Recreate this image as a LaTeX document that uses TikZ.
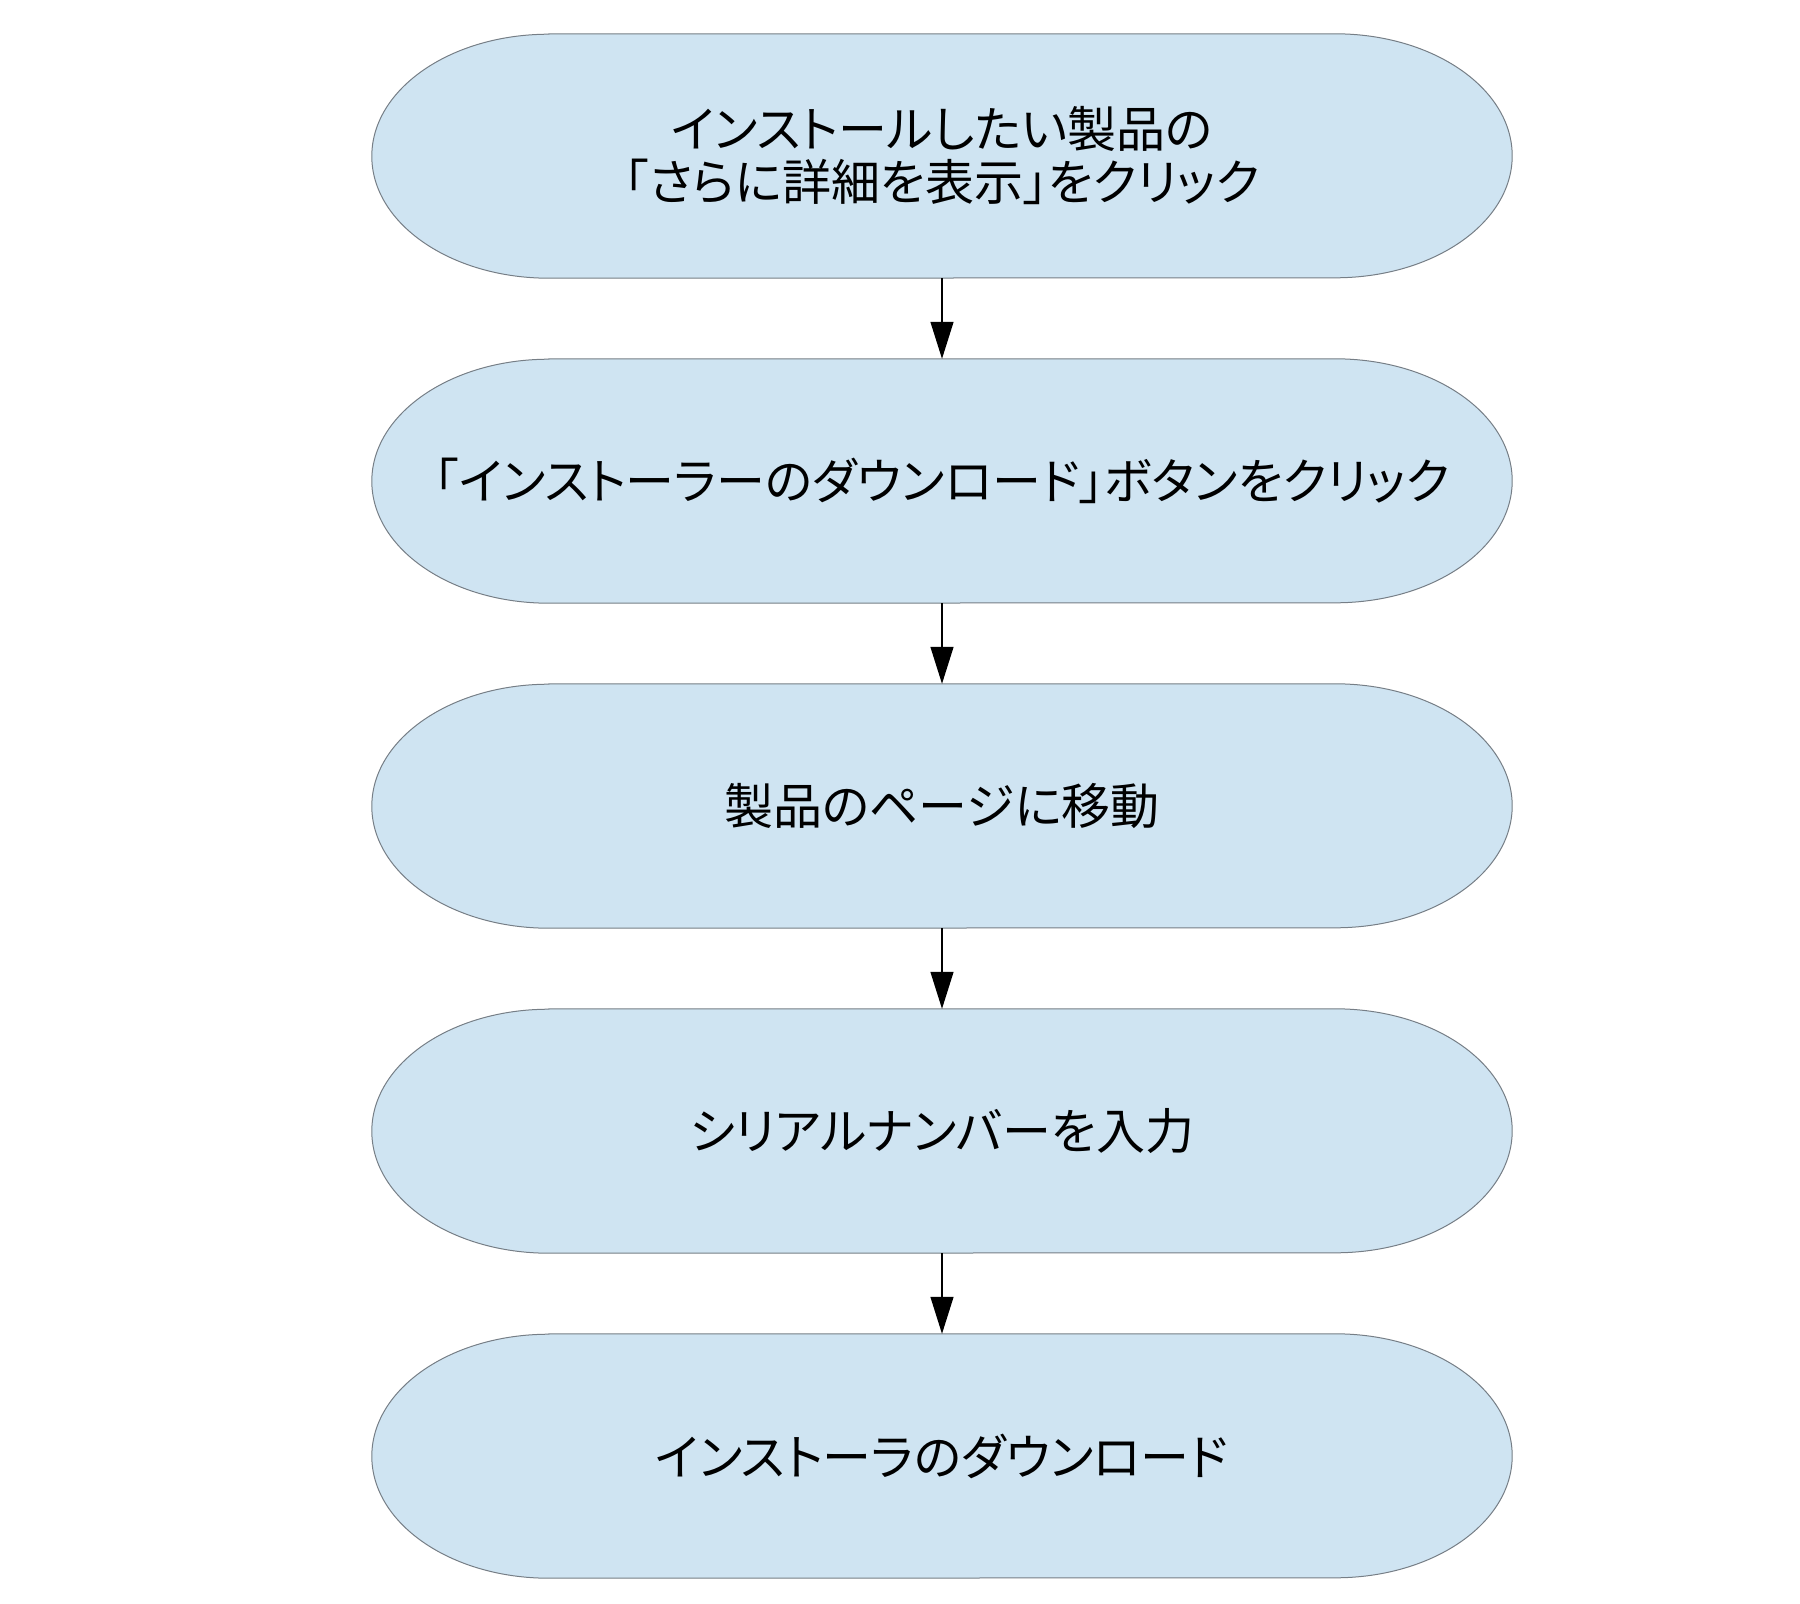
\documentclass[tikz,border=0pt]{standalone}
\usepackage{fontspec}
\newfontfamily\jp[RawFeature=+palt]{Noto Sans CJK JP}
\usetikzlibrary{arrows.meta,calc,backgrounds}
\definecolor{termfill}{RGB}{207,228,242}
\definecolor{termline}{RGB}{118,126,134}
\tikzset{
  term/.style={minimum width=1140pt, minimum height=244pt, inner sep=0pt, align=center,
    font=\jp\fontsize{49pt}{53pt}\selectfont},
  termshape/.style={draw=termline, fill=termfill, line width=1pt},
  flow/.style={line width=1.3pt, -{Triangle[length=37pt,width=23pt]}}
}
\begin{document}
\begin{tikzpicture}[x=1pt,y=1pt]
\useasboundingbox (0,0) rectangle (1800,-1604);
\node[term] (a) at (942,-156) {インストールしたい製品の\\「さらに詳細を表示」をクリック};
\node[term] (b) at (942,-481) {「インストーラーのダウンロード」ボタンをクリック};
\node[term] (c) at (942,-806) {製品のページに移動};
\node[term] (d) at (942,-1131) {シリアルナンバーを入力};
\node[term] (e) at (942,-1456) {インストーラのダウンロード};
\begin{scope}[on background layer]
\foreach \n in {a,b,c,d,e}{
  \draw[termshape] ($(\n.north west)+(177,0)$) -- ($(\n.north east)+(-177,0)$)
    arc[start angle=90,end angle=-90,x radius=177pt,y radius=122pt]
    -- ($(\n.south west)+(177,0)$)
    arc[start angle=270,end angle=90,x radius=177pt,y radius=122pt] -- cycle;
}
\end{scope}
\draw[flow] (a.south) -- (b.north);
\draw[flow] (b.south) -- (c.north);
\draw[flow] (c.south) -- (d.north);
\draw[flow] (d.south) -- (e.north);
\end{tikzpicture}
\end{document}
